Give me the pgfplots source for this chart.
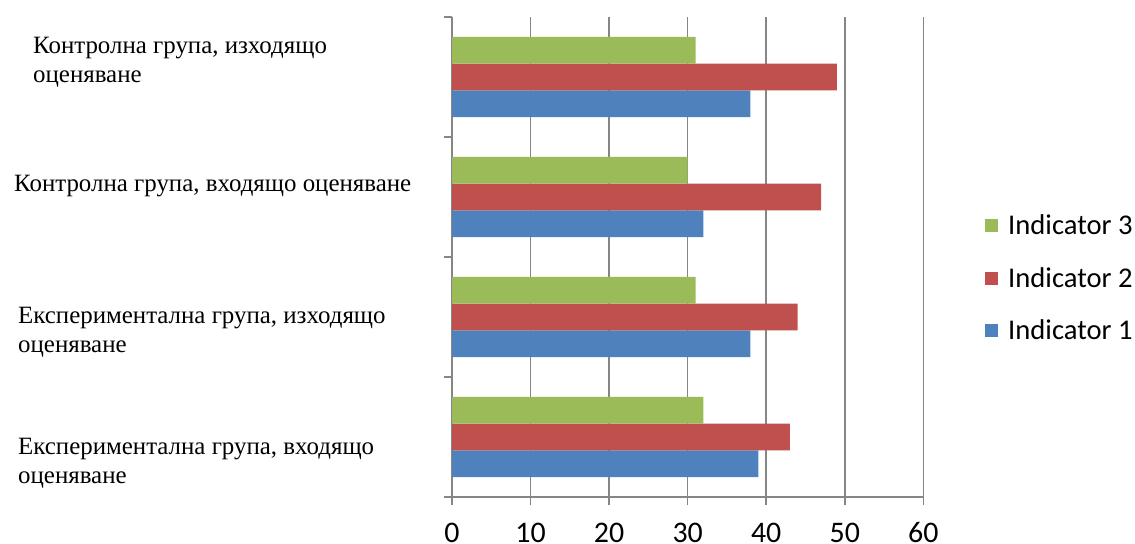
\documentclass[border=0pt]{standalone}
\usepackage{fontspec}
\setmainfont{Liberation Serif}
\newfontfamily\calibri{Carlito}
\usepackage{pgfplots}
\pgfplotsset{compat=1.18}
\definecolor{ind1}{HTML}{4F81BD}
\definecolor{ind2}{HTML}{C0504D}
\definecolor{ind3}{HTML}{9BBB59}
\definecolor{gridgray}{HTML}{868686}

\begin{document}
\begin{tikzpicture}
\useasboundingbox (0,0) rectangle (1135bp,544bp);
\begin{axis}[
  at={(452bp,47bp)}, anchor=south west,
  scale only axis, width=471.3bp, height=480bp,
  xbar, bar width=26.7bp,
  xmin=0, xmax=60, ymin=-0.5, ymax=3.5,
  axis x line*=bottom, axis y line*=left,
  axis line style={gridgray, line width=1.5bp, -},
  xtick={0,10,...,60},
  ytick={-0.5,0.5,1.5,2.5,3.5}, yticklabels={},
  tick align=outside, major tick length=8bp,
  tick style={gridgray, line width=1.5bp},
  xmajorgrids, grid style={gridgray, line width=1.5bp},
  /pgf/number format/assume math mode=true,
  xticklabel style={font=\calibri\fontsize{30}{30}\selectfont,
    anchor=north, inner sep=0pt, text height=20bp, text depth=0pt, yshift=-17bp},
  extra y ticks={3.125,2.09,0.875,-0.22},
  extra y tick labels={
    {\hspace*{15bp}Контролна група, изходящо\\\hspace*{15bp}оценяване},
    {\hspace*{-4bp}Контролна група, входящо оценяване},
    {Експериментална група, изходящо\\оценяване},
    {Експериментална група, входящо\\оценяване}},
  extra y tick style={major tick length=0pt,
    tick label style={anchor=west, xshift=-434bp, align=left, inner sep=0pt,
      text height=, text depth=, yshift=0bp,
      font=\fontsize{25}{29}\selectfont}},
  legend style={at={(axis description cs:1.131,0.456)}, anchor=west,
    draw=none, fill=none, inner sep=0pt, row sep=27bp, column sep=8bp,
    font=\calibri\fontsize{28.7}{28.7}\selectfont, cells={anchor=west}},
  reverse legend,
  legend image code/.code={\fill[#1] (0bp,-6.5bp) rectangle (13bp,6.5bp);},
]
\addplot[fill=ind1, draw=none, bar shift=-26.7bp] coordinates {(39,0) (38,1) (32,2) (38,3)};
\addplot[fill=ind2, draw=none, bar shift=0bp] coordinates {(43,0) (44,1) (47,2) (49,3)};
\addplot[fill=ind3, draw=none, bar shift=26.7bp] coordinates {(32,0) (31,1) (30,2) (31,3)};
\legend{Indicator 1, Indicator 2, Indicator 3}
\end{axis}
\end{tikzpicture}
\end{document}
